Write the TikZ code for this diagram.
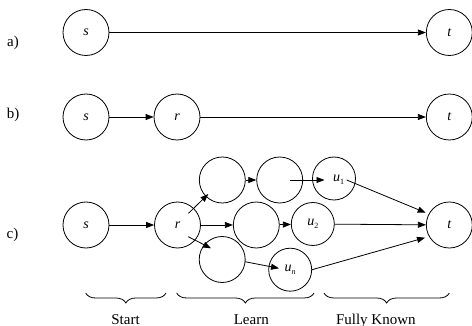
\documentclass[tikz,border=0pt]{standalone}
\usepackage{fontspec}
\setmainfont{Liberation Serif}
\usetikzlibrary{arrows.meta,decorations.pathreplacing,calc}
\newcommand\lowidx[1]{{\fontsize{8}{8}\selectfont\raisebox{-2.5pt}{#1}}}
\begin{document}
\begin{tikzpicture}[x=1pt,y=-1pt,
  state/.style={circle,draw,line width=0.8pt,minimum size=46pt,inner sep=0pt,
                font=\fontsize{14}{14}\selectfont\itshape},
  ustate/.style={state,minimum size=43pt},
  sym/.style={inner sep=0pt,font=\fontsize{14}{14}\selectfont\itshape},
  lab/.style={inner sep=0pt,font=\fontsize{15}{15}\selectfont},
  link/.style={line width=0.8pt,-{Triangle[length=8pt,width=6pt]}},
  bracestyle/.style={decorate,decoration={brace,mirror,amplitude=10pt},line width=0.8pt}]
\useasboundingbox (0,0) rectangle (472,326);

% row labels
\node[lab] (la) at (13,43) {a)};
\node[lab] (lb) at (13,115) {b)};
\node[lab] (lc) at (12.5,235) {c)};

% a) direct
\node[state] (sa) at (86,32.5) {s};
\node[state] (ta) at (449.3,32.5) {t};
\draw[link] (sa) -- (ta);

% b) one relay
\node[state] (sb) at (86,117) {s};
\node[state] (rb) at (177,117) {r};
\node[state] (tb) at (449.3,117) {t};
\draw[link] (sb) -- (rb);
\draw[link] (rb) -- (tb);

% c) learning phase
\node[state] (sc) at (86,225) {s};
\node[state] (rc) at (177.5,225) {r};
\node[state] (tc) at (449.3,225) {t};
\node[state] (na) at (222.3,180) {};
\node[state] (nb) at (279.7,180) {};
\node[ustate] (u1) at (334,178.5) {};
\node[sym] (u1t) at (338.5,180) {u\lowidx{\upshape 1}};
\node[state] (nc) at (256.3,225) {};
\node[ustate] (u2) at (312.8,224) {u\lowidx{\upshape 2}};
\node[state] (nd) at (222.2,259.5) {};
\node[ustate] (un) at (290.2,269.7) {};
\node[sym] (unt) at (290,270) {u\lowidx{n}};

\draw[link] (sc) -- (rc);
\draw[link] ($(rc)+(11,-11.7)$) -- ($(na)+(-14,14)$);
\draw[link] (rc) -- (nc);
\draw[link] ($(rc)+(10.8,11.7)$) -- ($(nd)+(-11.2,-11.2)$);
\draw[link] (na) -- (nb);
\draw[link] ($(nb)+(10,0)$) -- ($(u1)+(-9.5,1.5)$);
\draw[link] (nc) -- (u2);
\draw[link] ($(nd)+(22.8,2.2)$) -- ($(un)+(-11.2,-1.4)$);
\draw[link] ($(u1)+(12.7,1.5)$) -- ($(tc)+(-23.6,-12.3)$);
\draw[link] (u2) -- (tc);
\draw[link] (un.east) -- ($(tc)+(-24.3,12.7)$);

% phases
\coordinate (b1a) at (85.7,293);
\coordinate (b1b) at (166,293);
\coordinate (b2a) at (176.7,293);
\coordinate (b2b) at (314,293);
\coordinate (b3a) at (324,293);
\coordinate (b3b) at (449.3,293);
\draw[bracestyle] (b1a) -- (b1b);
\draw[bracestyle] (b2a) -- (b2b);
\draw[bracestyle] (b3a) -- (b3b);
\node[lab,anchor=base] (start) at (125.5,324) {Start};
\node[lab,anchor=base] (learn) at (251.3,324) {Learn};
\node[lab,anchor=base] (known) at (375.8,324) {Fully Known};
\end{tikzpicture}
\end{document}
